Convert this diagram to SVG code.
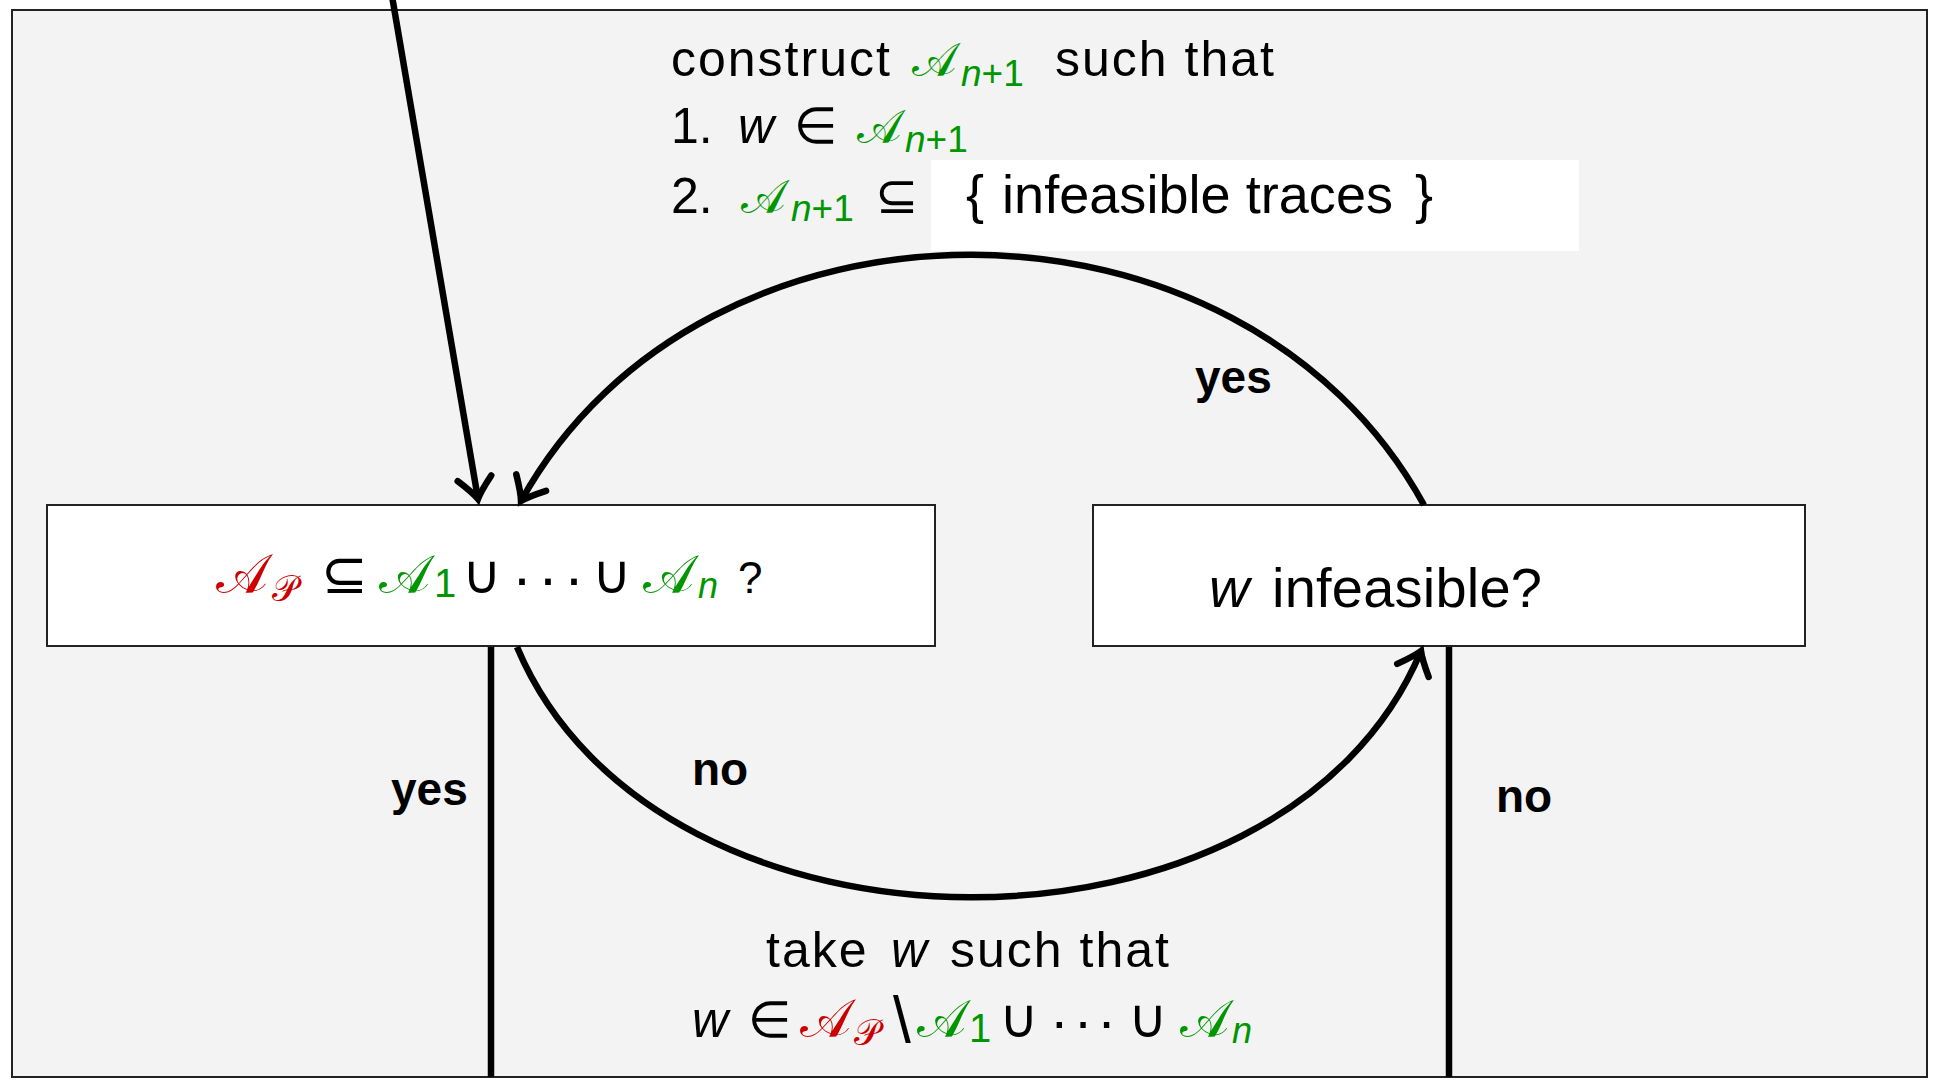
<svg xmlns="http://www.w3.org/2000/svg" width="1933" height="1080" viewBox="0 0 1933 1080">
<style>
.t{font-family:"Liberation Sans",sans-serif;fill:#000}
.it{font-style:italic}
.m{font-family:"DejaVu Sans",sans-serif}
.cal{font-family:"DejaVu Sans","Noto Sans",sans-serif;font-style:normal}
.ls{letter-spacing:2px}
.g{fill:#009600}
.r{fill:#cc0000}
.lbl{font-family:"Liberation Sans",sans-serif;font-weight:bold;font-size:46px;fill:#000}
.box{fill:#fff;stroke:#222;stroke-width:2}
.conn{fill:none;stroke:#000;stroke-width:6.5}
</style>
<defs>
<marker id="arr" markerUnits="userSpaceOnUse" orient="auto" refX="0" refY="0" markerWidth="50" markerHeight="50" viewBox="-25 -25 30 50" overflow="visible">
<path d="M-21,-17 Q-7,-4 0,0 Q-7,4 -21,17" fill="none" stroke="#000" stroke-width="6.5" stroke-linecap="round"/>
</marker>
</defs>
<rect x="0" y="0" width="1933" height="1080" fill="#fff"/>
<rect id="frame" x="12" y="10" width="1915" height="1067" fill="#f3f3f3" stroke="#222" stroke-width="2"/>

<g id="top-text">
<text class="t" font-size="50"><tspan class="ls" x="671" y="76">construct</tspan><tspan class="cal g" font-size="47" x="912" y="76">𝒜</tspan><tspan class="g it" font-size="37" x="961" y="86">n</tspan><tspan class="g" font-size="37">+1</tspan><tspan class="ls" x="1055" y="76">such that</tspan></text>
<text class="t" font-size="50"><tspan x="671" y="143">1.</tspan><tspan class="it" x="738" y="143">w</tspan><tspan class="m" x="794" y="143">∈</tspan><tspan class="cal g" font-size="47" x="857" y="143">𝒜</tspan><tspan class="g it" font-size="37" x="905" y="152">n</tspan><tspan class="g" font-size="37">+1</tspan></text>
<text class="t" font-size="50"><tspan x="671" y="213">2.</tspan><tspan class="cal g" font-size="47" x="741" y="213">𝒜</tspan><tspan class="g it" font-size="37" x="791" y="221">n</tspan><tspan class="g" font-size="37">+1</tspan><tspan class="m" font-size="52" x="875" y="213">⊆</tspan></text>
</g>

<g id="infeasible-set">
<rect x="931" y="160" width="648" height="91" fill="#fff"/>
<text class="t" font-size="54"><tspan x="966" y="213">{</tspan><tspan x="1002" y="213" textLength="391">infeasible traces</tspan><tspan x="1415" y="213">}</tspan></text>
</g>

<g id="node-inclusion">
<rect class="box" x="47" y="505" width="888" height="141"/>
<text class="t" font-size="54"><tspan class="cal r" font-size="55" x="216" y="593">𝒜</tspan><tspan class="cal r" font-size="36" x="272" y="601">𝒫</tspan><tspan class="m" font-size="56" x="321" y="593">⊆</tspan><tspan class="cal g" x="379" y="593">𝒜</tspan><tspan class="g" font-size="40" x="434" y="597">1</tspan><tspan class="m" x="462" y="593">∪</tspan><tspan font-size="60" letter-spacing="6" x="512" y="598">···</tspan><tspan class="m" x="592" y="593">∪</tspan><tspan class="cal g" x="643" y="593">𝒜</tspan><tspan class="g it" font-size="36" x="698" y="598">n</tspan><tspan font-size="44" x="738" y="593">?</tspan></text>
</g>

<g id="node-infeasible">
<rect class="box" x="1093" y="505" width="712" height="141"/>
<text class="t" font-size="56"><tspan class="it" x="1209" y="607">w</tspan><tspan x="1272" y="607" textLength="270">infeasible?</tspan></text>
</g>

<g id="bottom-text">
<text class="t" font-size="50"><tspan class="ls" x="766" y="967">take</tspan><tspan class="it" x="891" y="967">w</tspan><tspan class="ls" x="950" y="967">such that</tspan></text>
<text class="t" font-size="50"><tspan class="it" x="692" y="1037">w</tspan><tspan class="m" x="748" y="1037">∈</tspan><tspan class="cal r" font-size="54" x="800" y="1037">𝒜</tspan><tspan class="cal r" font-size="36" x="854" y="1045">𝒫</tspan><tspan font-size="64" x="893" y="1042">\</tspan><tspan class="cal g" font-size="52" x="917" y="1037">𝒜</tspan><tspan class="g" font-size="40" x="969" y="1042">1</tspan><tspan class="m" font-size="54" x="999" y="1037">∪</tspan><tspan font-size="56" letter-spacing="5" x="1050" y="1040">···</tspan><tspan class="m" font-size="54" x="1128" y="1037">∪</tspan><tspan class="cal g" font-size="52" x="1180" y="1037">𝒜</tspan><tspan class="g it" font-size="36" x="1232" y="1043">n</tspan></text>
</g>

<g id="connectors">
<path class="conn" d="M392,-4 L478,499" marker-end="url(#arr)"/>
<path class="conn" d="M1424,505 C1241,172 703,172 521,501" marker-end="url(#arr)"/>
<path class="conn" d="M517,647 C657,980 1284,980 1421,651" marker-end="url(#arr)"/>
<path class="conn" d="M491,647 L491,1077"/>
<path class="conn" d="M1449,647 L1449,1077"/>
</g>

<g id="labels">
<text class="lbl" x="1195" y="393">yes</text>
<text class="lbl" x="391" y="805">yes</text>
<text class="lbl" x="692" y="785">no</text>
<text class="lbl" x="1496" y="812">no</text>
</g>
</svg>
